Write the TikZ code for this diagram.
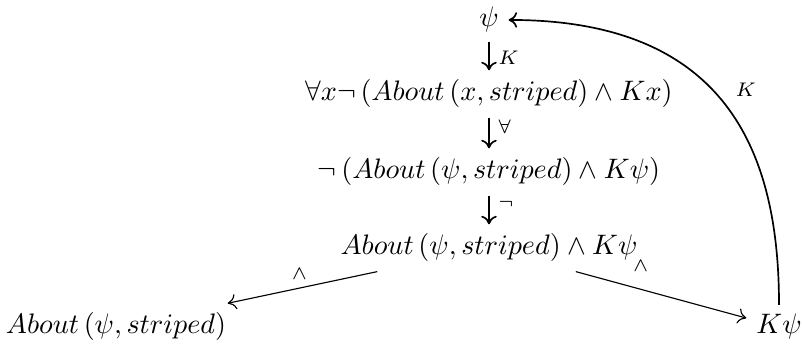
\documentclass[tikz,border=0pt]{standalone}
\usetikzlibrary{arrows.meta}
\begin{document}
\begin{tikzpicture}[x=0.355pt, y=-0.355pt,
    >={Computer Modern Rightarrow[length=3pt, width=5.5pt]},
    term/.style={anchor=base, inner xsep=3.33pt, inner ysep=3.2pt},
    lbl/.style={inner sep=3pt, font=\scriptsize}]
\useasboundingbox (0,0) rectangle (802,347);

% Formules, van boven naar beneden
\node[term] (psi) at (489,27) {$\psi$};
\node[term] (forall) at (489,101) {$\forall x \neg\,(About\,(x, striped) \wedge Kx)$};
\node[term] (neg) at (489,179) {$\neg\,(About\,(\psi, striped) \wedge K\psi)$};
\node[term] (conj) at (489,255) {$About\,(\psi, striped) \wedge K\psi$};

% Onderste rij
\node[term] (about) at (116,334) {$About\,(\psi, striped)$};
\node[term] (kpsi) at (779,334) {$K\psi$};

% Verticale pijlen met regels
\draw[->, semithick] (psi) -- node[lbl, right, pos=0.55] {$K$} (forall);
\draw[->, semithick] (forall) -- node[lbl, right, pos=0.3] {$\forall$} (neg);
\draw[->, semithick] (neg) -- node[lbl, right, pos=0.3] {$\neg$} (conj);

% Splitsing van de conjunctie
\draw[->] (conj) -- node[lbl, above, pos=0.52] {$\wedge$} (about);
\draw[->] (conj) -- node[lbl, above=3pt, pos=0.38] {$\wedge$} (kpsi);

% Boog terug naar psi
\draw[->, semithick] (kpsi.north) .. controls +(0,-150) and +(220,0) ..
    node[lbl, pos=0.5, above right] {$K$} (psi.east);
\end{tikzpicture}
\end{document}
